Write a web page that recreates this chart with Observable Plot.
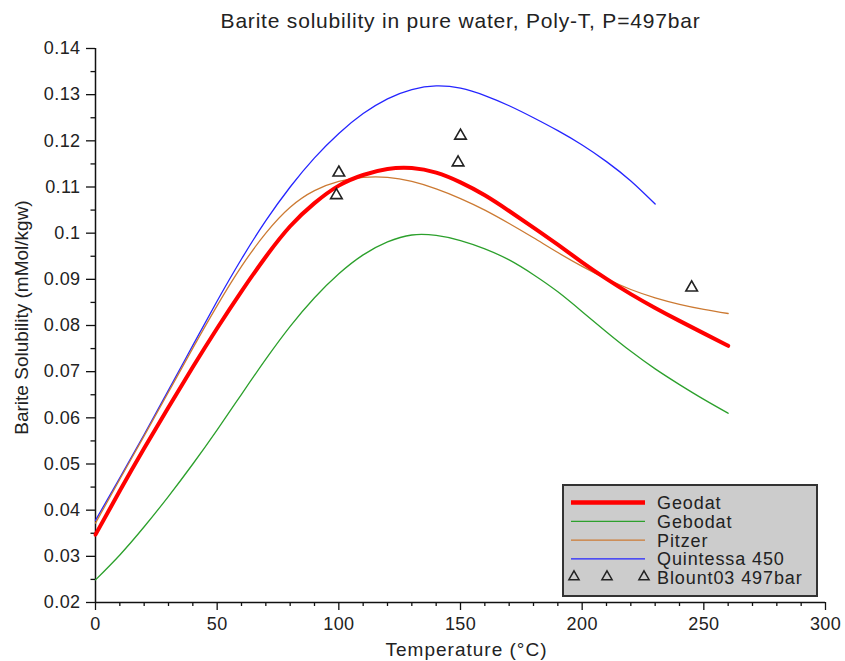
<!DOCTYPE html>
<html>
<head>
<meta charset="utf-8">
<script src="https://cdn.jsdelivr.net/npm/d3@7"></script>
<script src="https://cdn.jsdelivr.net/npm/@observablehq/plot@0.6"></script>
<style>
  html, body { margin: 0; padding: 0; background: #fff; }
  #wrap { position: relative; width: 845px; height: 661px; font-family: "Liberation Sans", Arial, sans-serif; }
  #legend { position: absolute; left: 562px; top: 484px; width: 252px; height: 109px; background: #cccccc; border: 2px solid #333; }
  #legend svg { position: absolute; left: 0; top: 0; }
</style>
</head>
<body>
<div id="wrap"></div>
<script>
// ---- data ----
const temps = [0,10,20,30,40,50,60,70,80,90,100,110,120,130,140,150,160,170,180,190,200,210,220,230,240,250,260];
const geodat = [0.0347,0.0442,0.0534,0.0623,0.0710,0.0794,0.0874,0.0949,0.1015,0.1065,0.1103,0.1126,0.1139,0.1141,0.1131,0.1110,0.1082,0.1048,0.1012,0.0975,0.0937,0.0901,0.0868,0.0838,0.0810,0.0783,0.0756];
const gebodat = [0.0249,0.0303,0.0364,0.0430,0.0500,0.0574,0.0651,0.0727,0.0798,0.0860,0.0912,0.0953,0.0981,0.0996,0.0995,0.0984,0.0966,0.0942,0.0910,0.0873,0.0830,0.0786,0.0744,0.0706,0.0672,0.0640,0.0610];
const pitzer = [0.0372,0.0467,0.0561,0.0656,0.0751,0.0843,0.0928,0.1000,0.1056,0.1092,0.1112,0.1121,0.1121,0.1112,0.1096,0.1075,0.1050,0.1021,0.0990,0.0958,0.0928,0.0901,0.0878,0.0860,0.0846,0.0835,0.0826];
const quintTemps = [0,10,20,30,40,50,60,70,80,90,100,110,120,130,140,150,160,170,180,190,200,210,220,230];
const quintessa = [0.0378,0.0470,0.0564,0.0660,0.0757,0.0853,0.0944,0.1027,0.1100,0.1163,0.1216,0.1259,0.1291,0.1311,0.1319,0.1314,0.1298,0.1276,0.1250,0.1222,0.1191,0.1155,0.1113,0.1063];
const blountT = [100,99,149,150,245];
const blountS = [0.1131,0.1082,0.1153,0.1211,0.0882];
const xTicks = [0,50,100,150,200,250,300];
const xMinor = [10,20,30,40,60,70,80,90,110,120,130,140,160,170,180,190,210,220,230,240,260,270,280,290];
const yTicks = [0.02,0.03,0.04,0.05,0.06,0.07,0.08,0.09,0.10,0.11,0.12,0.13,0.14];
const yTickLabels = ["0.02","0.03","0.04","0.05","0.06","0.07","0.08","0.09","0.1","0.11","0.12","0.13","0.14"];
const yMinor = [0.025,0.035,0.045,0.055,0.065,0.075,0.085,0.095,0.105,0.115,0.125,0.135];
const seriesNames = ["Geodat","Gebodat","Pitzer","Quintessa 450","Blount03 497bar"];
const seriesColors = ["#ff0000","#2ca02c","#cc7a33","#2525ff","#000000"];
const titleText = "Barite solubility in pure water, Poly-T, P=497bar";
const xLabel = "Temperature (°C)";
const yLabel = "Barite Solubility (mMol/kgw)";

const tbl = (xs, ys) => xs.map((t, i) => ({t, v: ys[i]}));
const blount = tbl(blountT, blountS);
const axisStyle = {stroke: "#111", strokeWidth: 1.3, label: null};

const chart = Plot.plot({
  width: 845, height: 661,
  marginLeft: 95, marginRight: 20, marginTop: 48, marginBottom: 59,
  style: {fontFamily: "'Liberation Sans', Arial, sans-serif", fontSize: "18px", background: "#fff", color: "#222"},
  x: {domain: [0, 300]},
  y: {domain: [0.02, 0.14]},
  marks: [
    Plot.axisX(xTicks, {...axisStyle, tickSize: 8, tickPadding: 7, fontSize: 18, fill: "#222"}),
    Plot.axisX(xMinor, {...axisStyle, tickSize: 4, tickFormat: () => ""}),
    Plot.axisY(yTicks, {...axisStyle, tickSize: 9, tickPadding: 6, fontSize: 18, fill: "#222", tickFormat: (d) => yTickLabels[yTicks.indexOf(d)]}),
    Plot.axisY(yMinor, {...axisStyle, tickSize: 4.5, tickFormat: () => ""}),
    Plot.ruleX([0], {stroke: "#111", strokeWidth: 1.5}),
    Plot.ruleY([0.02], {stroke: "#111", strokeWidth: 1.5}),
    Plot.line(tbl(temps, gebodat), {x: "t", y: "v", stroke: seriesColors[1], strokeWidth: 1.3, curve: "natural"}),
    Plot.line(tbl(quintTemps, quintessa), {x: "t", y: "v", stroke: seriesColors[3], strokeWidth: 1.3, curve: "natural"}),
    Plot.line(tbl(temps, pitzer), {x: "t", y: "v", stroke: seriesColors[2], strokeWidth: 1.3, curve: "natural"}),
    Plot.line(tbl(temps, geodat), {x: "t", y: "v", stroke: seriesColors[0], strokeWidth: 4, curve: "natural"}),
    Plot.dot(blount, {x: "t", y: "v", symbol: "triangle", r: 4.3, fill: "none", stroke: "#222", strokeWidth: 1.6}),
    Plot.text([titleText], {frameAnchor: "top", textAnchor: "middle", lineAnchor: "middle", dy: -27, fontSize: 21, fill: "#222"}),
    Plot.text([xLabel], {frameAnchor: "bottom", textAnchor: "middle", lineAnchor: "middle", dx: 6, dy: 47, fontSize: 19, fill: "#222"}),
    Plot.text([yLabel], {frameAnchor: "left", textAnchor: "middle", lineAnchor: "middle", dx: -74, dy: -8, rotate: -90, fontSize: 19, fill: "#222"})
  ]
});
const wrap = document.getElementById("wrap");
wrap.appendChild(chart);
d3.select(chart).selectAll("text").filter(function () { return this.textContent === xLabel; })
  .style("letter-spacing", "1px");
d3.select(chart).selectAll("g[aria-label='y-axis tick label'] text, g[aria-label='x-axis tick label'] text")
  .style("letter-spacing", "0.4px");
d3.select(chart).selectAll("text").filter(function () { return this.textContent === titleText; })
  .style("letter-spacing", "0.8px");

// legend (HTML overlay with small SVG samples)
const legend = document.createElement("div");
legend.id = "legend";
wrap.appendChild(legend);
const lsvg = d3.select(legend).append("svg").attr("width", 252).attr("height", 109)
  .style("font-family", "'Liberation Sans', Arial, sans-serif").style("font-size", "18px").style("letter-spacing", "0.9px");
const rowY = i => 16.5 + i * 18.8;
seriesNames.forEach((name, i) => {
  if (i < 4) {
    lsvg.append("line").attr("x1", 7).attr("x2", 81).attr("y1", rowY(i)).attr("y2", rowY(i))
      .attr("stroke", seriesColors[i]).attr("stroke-width", i === 0 ? 4.5 : 1.3);
  } else {
    [10, 43, 80].forEach(cx => {
      lsvg.append("path").attr("d", d3.symbol(d3.symbolTriangle, 45)()).attr("transform", `translate(${cx},${rowY(i) - 1})`)
        .attr("fill", "none").attr("stroke", "#222").attr("stroke-width", 1.5);
    });
  }
  lsvg.append("text").attr("x", 93).attr("y", rowY(i) + 6.5).attr("fill", "#222").text(name);
});
</script>
</body>
</html>
